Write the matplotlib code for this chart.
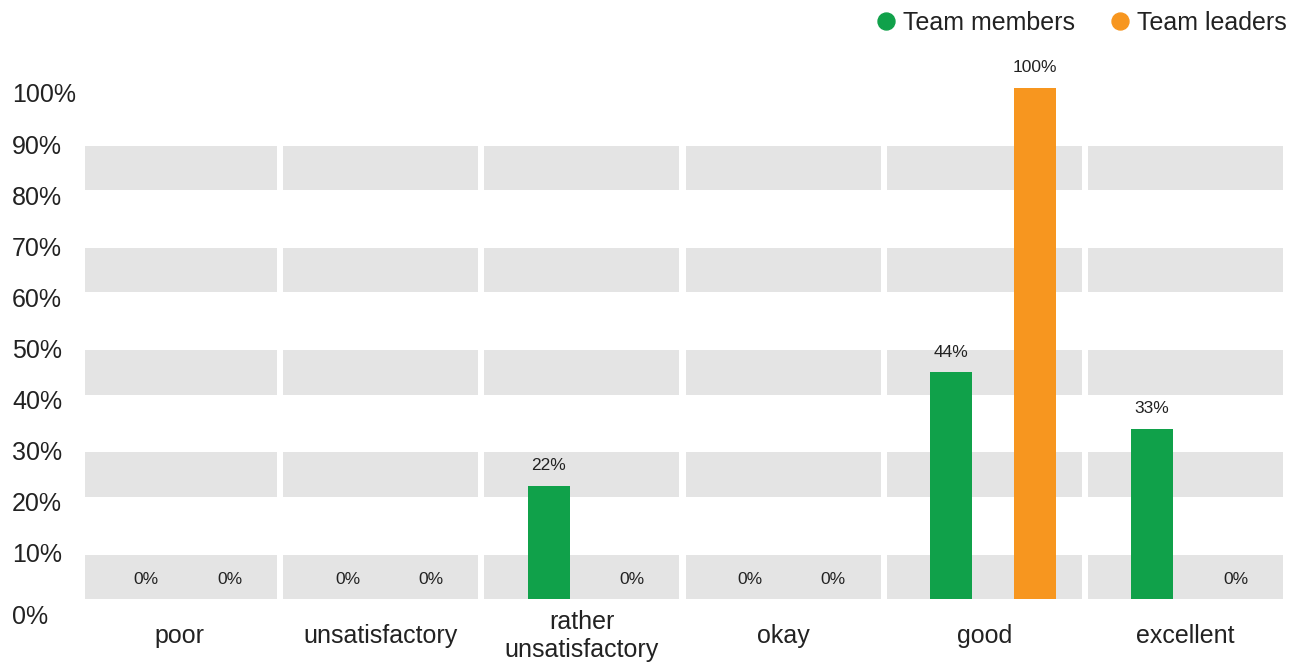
import matplotlib
matplotlib.use("Agg")
import matplotlib.pyplot as plt
import matplotlib.transforms as mtransforms
from matplotlib.lines import Line2D
import numpy as np

plt.rcParams['font.family'] = ['Liberation Sans', 'DejaVu Sans']

categories = ['poor', 'unsatisfactory', 'rather\nunsatisfactory', 'okay', 'good', 'excellent']
members = [0, 0, 22.2, 0, 44.4, 33.3]
leaders = [0, 0, 0, 0, 100, 0]
series_names = ['Team members', 'Team leaders']
y_ticks = [0, 10, 20, 30, 40, 50, 60, 70, 80, 90, 100]

green = '#10a14a'
orange = '#f7961f'
band_grey = '#e4e4e4'

W, H = 1289, 664
fig = plt.figure(figsize=(W / 100, H / 100), dpi=100)
ax_l, ax_r = 79, 1286
ax = fig.add_axes([ax_l / W, 65 / H, (ax_r - ax_l) / W, 511 / H])

x = np.arange(len(categories))
ax.set_xlim(-0.5, len(categories) - 0.5)
ax.set_ylim(0, 100)

# grey cells: one band every 20%, split per category with white gaps,
# the outer cells are cut at the plot edges
unit = (ax_r - ax_l) / len(categories)
left_lim = (85 - ax_l) / unit - 0.5
right_lim = (1283 - ax_l) / unit - 0.5
cells = []
for i in x:
    lo = max(i - 0.485, left_lim)
    hi = min(i + 0.485, right_lim)
    cells.append((lo, hi - lo))
for b in range(0, 100, 20):
    ax.broken_barh(cells, (b, 8.7), facecolors=band_grey, edgecolor='none', zorder=0)

bw = 0.209
off_m, off_l = -0.165, 0.25
ax.bar(x + off_m, members, bw, color=green, zorder=2)
ax.bar(x + off_l, leaders, bw, color=orange, zorder=2)

for xs, vals in ((x + off_m, members), (x + off_l, leaders)):
    for xi, v in zip(xs, vals):
        ax.annotate('%d%%' % round(v), (xi, v), xytext=(0, 14.4), textcoords='offset points',
                    ha='center', va='center', fontsize=12.5, color='#222222', annotation_clip=False)

for s in ax.spines.values():
    s.set_visible(False)

ax.set_xticks(x)
ax.set_xticklabels(categories, fontsize=18, color='#222222')
ax.tick_params(axis='x', length=0, pad=26.5)
for lab in ax.get_xticklabels():
    lab.set_va('center')

ax.set_yticks(y_ticks)
ax.set_yticklabels(['%d%%' % t for t in y_ticks], fontsize=18, color='#222222')
ax.tick_params(axis='y', length=0, pad=(ax_l - 12) * 0.72)
for t, lab in zip(y_ticks, ax.get_yticklabels()):
    lab.set_ha('left')
    dy = -15 / 100 if t == 0 else -5 / 100
    lab.set_transform(lab.get_transform() + mtransforms.ScaledTranslation(0, dy, fig.dpi_scale_trans))

handles = [Line2D([], [], marker='o', linestyle='none', markersize=12.2, color=green),
           Line2D([], [], marker='o', linestyle='none', markersize=12.2, color=orange)]
fig.legend(handles, series_names, loc='upper right', bbox_to_anchor=(1.016, 1.018), ncol=2,
           frameon=False, fontsize=18, handlelength=0.6, handletextpad=0.38, columnspacing=1.5,
           labelcolor='#222222')

fig.savefig('out.png', dpi=100)
